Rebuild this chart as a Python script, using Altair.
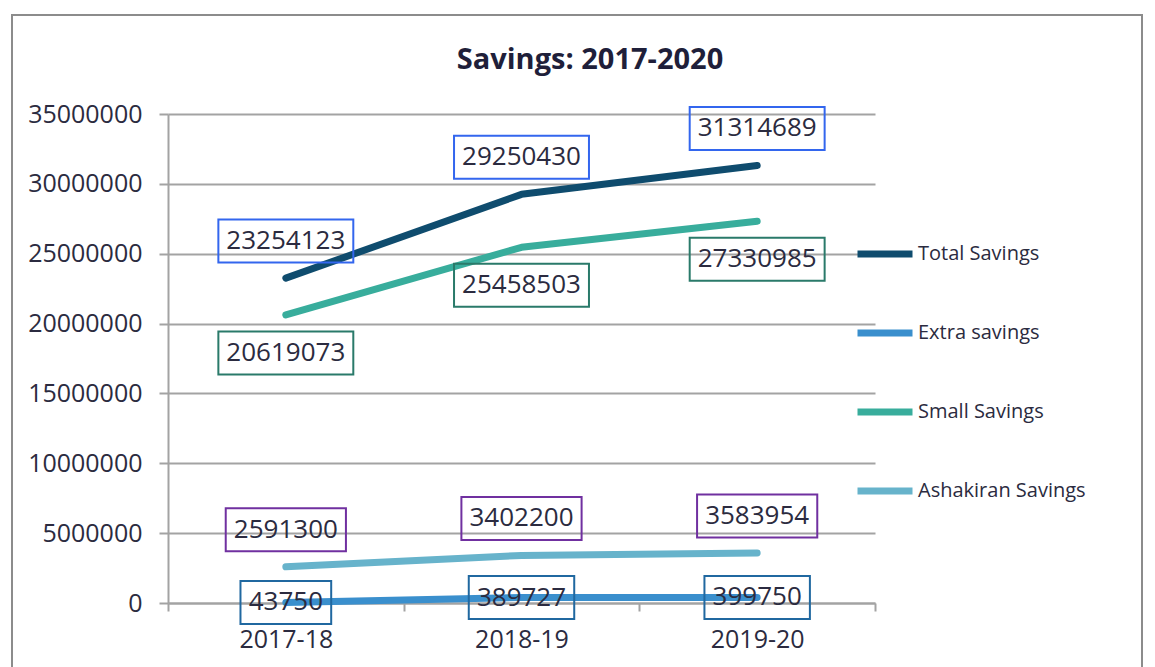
import altair as alt
import pandas as pd

categories = ["2017-18", "2018-19", "2019-20"]
series_names = ["Total Savings", "Extra savings", "Small Savings", "Ashakiran Savings"]
total_savings = [23254123, 29250430, 31314689]
extra_savings = [43750, 389727, 399750]
small_savings = [20619073, 25458503, 27330985]
ashakiran_savings = [2591300, 3402200, 3583954]
y_ticks = [0, 5000000, 10000000, 15000000, 20000000, 25000000, 30000000, 35000000]
chart_title = "Savings: 2017-2020"

rows = []
for name, vals in zip(series_names, [total_savings, extra_savings, small_savings, ashakiran_savings]):
    for c, v in zip(categories, vals):
        rows.append({"year": c, "series": name, "value": v, "label": str(v)})
df = pd.DataFrame(rows)

FONT = "Open Sans"
TXT = "#2B2B40"
GRID = "#A3A3A3"

line_colors = ["#0F4C6E", "#3A8FCD", "#38AD9C", "#67B3CB"]
box_colors = {"Total Savings": "#3366EE", "Extra savings": "#2068A0",
              "Small Savings": "#2A7A6A", "Ashakiran Savings": "#7030A0"}
label_offsets = {"Total Savings": -37, "Extra savings": 0,
                 "Small Savings": 38, "Ashakiran Savings": -37}

# rectangular box symbols (unit = sqrt(size)/2 = 67px)
def box_path(n):
    hw = (n * 14.75 + 17) / 2 / 67.0
    hh = 0.321
    return f"M{-hw:.3f},{-hh}L{hw:.3f},{-hh}L{hw:.3f},{hh}L{-hw:.3f},{hh}Z"

box_paths = [box_path(n) for n in [5, 6, 7, 8]]

x_enc = alt.X("year:N", sort=categories,
              scale=alt.Scale(type="band", paddingInner=0, paddingOuter=0),
              axis=alt.Axis(title=None, labelAngle=0, tickBand="extent",
                            labelFont=FONT, labelFontSize=25, labelColor=TXT,
                            labelPadding=16, tickSize=8, tickColor=GRID, tickWidth=2,
                            domainColor=GRID, domainWidth=2, grid=False))
y_enc = alt.Y("value:Q", scale=alt.Scale(domain=[0, 35000000], nice=False, zero=True),
              axis=alt.Axis(title=None, values=y_ticks, format="d",
                            labelFont=FONT, labelFontSize=25, labelColor=TXT,
                            labelPadding=17, tickSize=9, tickColor=GRID, tickWidth=2,
                            domainColor=GRID, domainWidth=2,
                            grid=True, gridColor=GRID, gridWidth=2))

base = alt.Chart(df)
one = alt.Chart(pd.DataFrame({"k": [0]}))

frame = one.mark_rect(
    fillOpacity=0, stroke="#8C8C8C", strokeWidth=2
).encode(x=alt.value(-156), x2=alt.value(974), y=alt.value(-99), y2=alt.value(600))

title = one.mark_text(font=FONT, fontSize=29, fontWeight="bold", color="#1F1F3A",
                      align="center", baseline="middle").encode(
    x=alt.value(422), y=alt.value(-54), text=alt.value(chart_title))

lines = base.mark_line(strokeWidth=7, strokeCap="round", strokeJoin="round").encode(
    x=x_enc, y=y_enc,
    color=alt.Color("series:N",
                    scale=alt.Scale(domain=series_names, range=line_colors),
                    sort=series_names,
                    legend=alt.Legend(title=None, orient="none", legendX=686, legendY=109,
                                      symbolType="stroke", symbolStrokeWidth=7,
                                      symbolSize=3025, labelFont=FONT, labelFontSize=20,
                                      labelLimit=400,
                                      labelColor=TXT, labelOffset=2, rowPadding=34,
                                      padding=0)),
    detail="series:N",
)

layers = [frame, title, lines]
for name in series_names:
    sub = base.transform_filter(alt.datum.series == name).transform_calculate(
        n="length(datum.label)")
    box = sub.mark_point(filled=False, size=17956, strokeWidth=2, opacity=1,
                         color=box_colors[name], yOffset=label_offsets[name]).encode(
        x=alt.X("year:N", sort=categories),
        y=alt.Y("value:Q"),
        shape=alt.Shape("n:O", scale=alt.Scale(domain=[5, 6, 7, 8], range=box_paths),
                        legend=None),
    )
    txt = sub.mark_text(font=FONT, fontSize=26, color=TXT,
                        yOffset=label_offsets[name]).encode(
        x=alt.X("year:N", sort=categories),
        y=alt.Y("value:Q"),
        text="label:N",
    )
    layers += [box, txt]

chart = alt.layer(*layers).properties(
    width=707, height=489,
    autosize=alt.AutoSizeParams(type="none"),
    padding={"left": 160, "top": 106, "right": 272, "bottom": 64},
).configure_view(stroke=None)

chart.save("out.html", embed_options={"renderer": "svg", "actions": False})
